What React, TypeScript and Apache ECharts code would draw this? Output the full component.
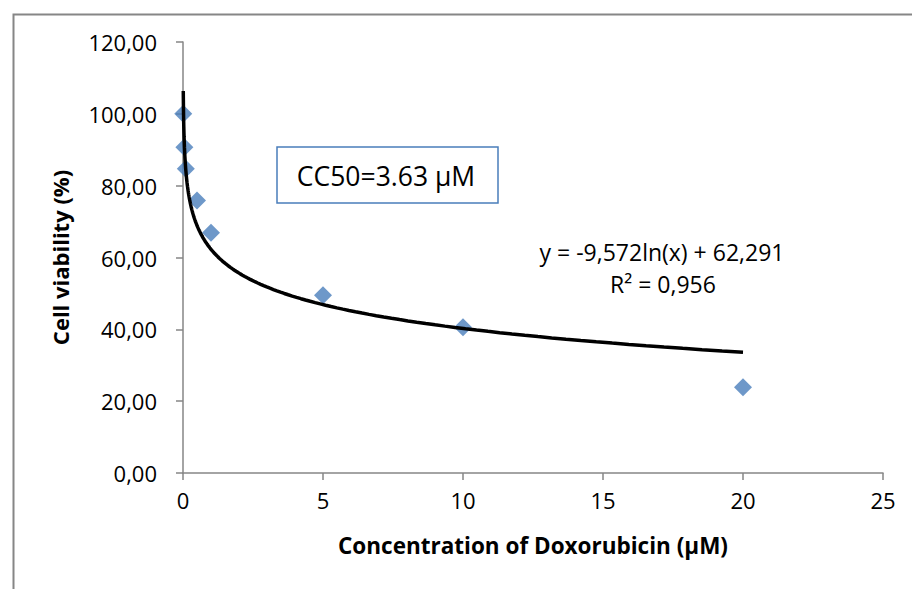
import React, { useEffect, useRef } from "react";
import * as echarts from "echarts";

const concentrations = [0.01, 0.05, 0.1, 0.5, 1, 5, 10, 20];
const viability = [100, 90.7, 84.7, 75.9, 66.9, 49.5, 40.6, 23.9];
const xTicks = { min: 0, max: 25, interval: 5 };
const yTicks = { min: 0, max: 120, interval: 20 };
const trendSlope = -9.572;
const trendIntercept = 62.291;
const trendRange = [0.01, 20];
const equationText = "y = -9,572ln(x) + 62,291";
const r2Text = "R² = 0,956";
const cc50Text = "CC50=3.63 µM";

const FONT = "'Open Sans', 'Noto Sans', sans-serif";

export default function App() {
  const ref = useRef<HTMLDivElement>(null);
  useEffect(() => {
    if (!ref.current) return;
    const chart = echarts.init(ref.current, null, { renderer: "svg" });
    const scatter = concentrations.map((c, i) => [c, viability[i]]);
    const trend: number[][] = [];
    const n = 200;
    const l0 = Math.log(trendRange[0]);
    const l1 = Math.log(trendRange[1]);
    for (let i = 0; i <= n; i++) {
      const x = Math.exp(l0 + ((l1 - l0) * i) / n);
      trend.push([x, trendSlope * Math.log(x) + trendIntercept]);
    }
    const axisGray = "#868686";
    chart.setOption({
      animation: false,
      backgroundColor: "#ffffff",
      grid: { left: 183, right: 29, top: 42, bottom: 116, containLabel: false },
      xAxis: {
        type: "value",
        min: xTicks.min,
        max: xTicks.max,
        interval: xTicks.interval,
        splitLine: { show: false },
        axisLine: { show: true, onZero: false, lineStyle: { color: axisGray, width: 1.5 } },
        axisTick: { show: true, inside: false, length: 7, lineStyle: { color: axisGray, width: 1.5 } },
        axisLabel: { color: "#000", fontFamily: FONT, fontSize: 22, margin: 16 },
        name: "Concentration of Doxorubicin (µM)",
        nameLocation: "middle",
        nameGap: 61,
        nameTextStyle: { color: "#000", fontFamily: FONT, fontSize: 22.5, fontWeight: "bold" },
      },
      yAxis: {
        type: "value",
        min: yTicks.min,
        max: yTicks.max,
        interval: yTicks.interval,
        splitLine: { show: false },
        axisLine: { show: true, onZero: false, lineStyle: { color: axisGray, width: 1.5 } },
        axisTick: { show: true, inside: false, length: 7, lineStyle: { color: axisGray, width: 1.5 } },
        axisLabel: {
          color: "#000",
          fontFamily: FONT,
          fontSize: 22,
          margin: 26,
          formatter: (v: number) => v.toFixed(2).replace(".", ","),
        },
        name: "Cell viability (%)",
        nameLocation: "middle",
        nameGap: 112,
        nameRotate: 90,
        nameTextStyle: { color: "#000", fontFamily: FONT, fontSize: 22, fontWeight: "bold" },
      },
      series: [
        {
          type: "line",
          data: trend,
          showSymbol: false,
          symbol: "none",
          smooth: false,
          lineStyle: { color: "#000", width: 3.5 },
          z: 3,
        },
        {
          type: "scatter",
          data: scatter,
          symbol: "diamond",
          symbolSize: 18,
          itemStyle: { color: "#4a7ebb" },
          z: 2,
        },
      ],
      graphic: [
        {
          type: "rect",
          left: 11,
          top: 12,
          shape: { x: 0, y: 0, width: 1000, height: 700 },
          style: { fill: "none", stroke: "#868686", lineWidth: 2 },
          silent: true,
        },
        {
          type: "rect",
          shape: { x: 277, y: 147, width: 221, height: 56 },
          style: { fill: "#fff", stroke: "#4a7ebb", lineWidth: 1.5 },
          z: 10,
        },
        {
          type: "text",
          x: 386,
          y: 176,
          style: {
            text: cc50Text,
            fill: "#000",
            font: `26.5px ${FONT}`,
            textAlign: "center",
            textVerticalAlign: "middle",
          },
          z: 11,
        },
        {
          type: "text",
          x: 662,
          y: 252,
          style: {
            text: equationText,
            fill: "#000",
            font: `23px ${FONT}`,
            textAlign: "center",
            textVerticalAlign: "middle",
          },
          z: 11,
        },
        {
          type: "text",
          x: 663,
          y: 284,
          style: {
            text: r2Text,
            fill: "#000",
            font: `23px ${FONT}`,
            textAlign: "center",
            textVerticalAlign: "middle",
          },
          z: 11,
        },
      ],
    });
    return () => chart.dispose();
  }, []);
  return (
    <div
      ref={ref}
      style={{ position: "fixed", left: 0, top: 0, width: 912, height: 589 }}
    />
  );
}
